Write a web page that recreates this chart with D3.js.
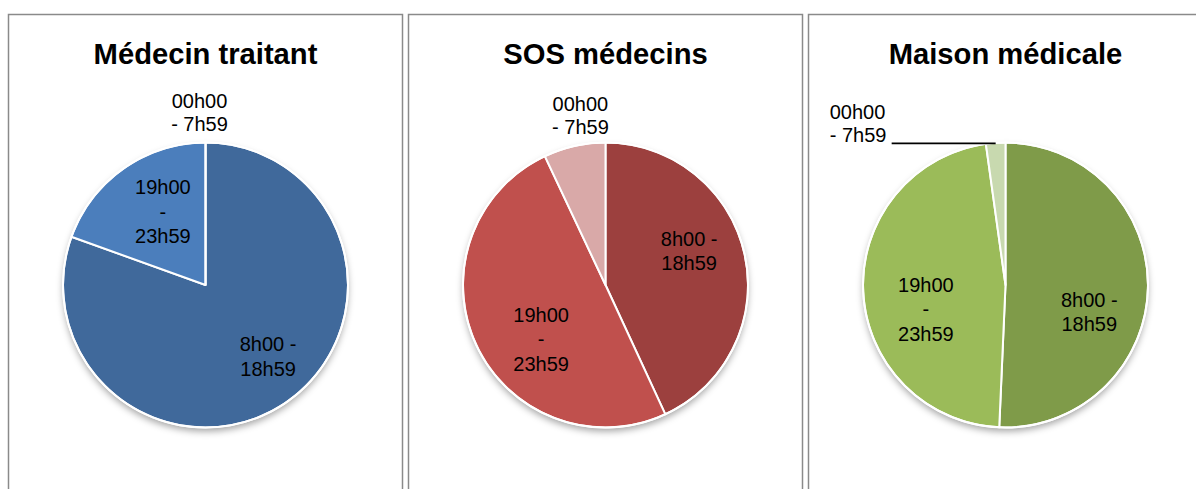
<!DOCTYPE html>
<html><head><meta charset="utf-8">
<script src="https://cdn.jsdelivr.net/npm/d3@7"></script>
<style>
html,body{margin:0;padding:0;background:#fff;}
svg{display:block;font-family:"Liberation Sans",Arial,sans-serif;}
</style></head>
<body>
<svg id="chart" width="1196" height="489"></svg>
<script>
// ---- data ----
const categories = ["8h00 - 18h59", "19h00 - 23h59", "00h00 - 7h59"];
const panelTitles = ["Médecin traitant", "SOS médecins", "Maison médicale"];
const medecinTraitant = [80.5, 19.5, 0];
const sosMedecins = [43.1, 49.9, 7.0];
const maisonMedicale = [50.7, 47.1, 2.2];
// wrapped label lines as they appear in each panel
const labelsMedecin = [["8h00 -", "18h59"], ["19h00", "-", "23h59"], ["00h00", "- 7h59"]];
const labelsSOS = [["8h00 -", "18h59"], ["19h00", "-", "23h59"], ["00h00", "- 7h59"]];
const labelsMaison = [["8h00 -", "18h59"], ["19h00", "-", "23h59"], ["00h00", "- 7h59"]];

// ---- styling / layout ----
const palettes = [
  ["#40699B", "#4B7EBC", "#A7BFDE"],
  ["#9C403E", "#C0504D", "#D9A9A8"],
  ["#7F9B49", "#9BBB59", "#C8D9AF"]
];
// small pixel nudges to mimic the spreadsheet's label placement
const nudges = [
  [[11, -2], [9, 0], null],
  [[-4, -15], [17, 16], null],
  [[-6, 25], [10, 20], null]
];
const outsideMode = ["above", "above", "leader"];

const panels = [
  {title: panelTitles[0], values: medecinTraitant, labels: labelsMedecin},
  {title: panelTitles[1], values: sosMedecins, labels: labelsSOS},
  {title: panelTitles[2], values: maisonMedicale, labels: labelsMaison}
];

const svg = d3.select("#chart");
const defs = svg.append("defs");
const f = defs.append("filter").attr("id", "shadow").attr("x", "-20%").attr("y", "-20%").attr("width", "140%").attr("height", "140%");
f.append("feDropShadow").attr("dx", 0).attr("dy", 4).attr("stdDeviation", 3.5)
  .attr("flood-color", "#000").attr("flood-opacity", 0.35);

const panelX = d3.scaleLinear().domain([0, 1]).range([8.5, 408.5]);
const panelW = 394;
const R = 142.5;
const cy = 285;
const fs = 20, lineH = 24.5, capH = 0.716 * fs;

const pie = d3.pie().sort(null).value(d => d);
const arc = d3.arc().innerRadius(0).outerRadius(R);
const labelArc = d3.arc().innerRadius(R * 0.63).outerRadius(R * 0.63);

panels.forEach((p, i) => {
  const x0 = panelX(i);
  const g = svg.append("g");
  g.append("rect").attr("x", x0).attr("y", 14.5)
    .attr("width", i === 2 ? 420 : panelW).attr("height", 500)
    .attr("fill", "none").attr("stroke", "#8a8a8a").attr("stroke-width", 1.5);

  const cx = x0 + 197;
  g.append("text").attr("x", cx).attr("y", 63.5).attr("text-anchor", "middle")
    .attr("font-weight", "bold").attr("font-size", 29.2).attr("fill", "#000").text(p.title);

  const pg = g.append("g").attr("transform", `translate(${cx},${cy})`);
  pg.append("circle").attr("r", R).attr("fill", "#fff").attr("filter", "url(#shadow)");
  const arcs = pie(p.values);
  pg.selectAll("path.slice").data(arcs).join("path").attr("class", "slice")
    .attr("d", arc).attr("fill", (d, j) => palettes[i][j])
    .attr("stroke", "#fff").attr("stroke-width", 2).attr("stroke-linejoin", "round");
  pg.append("circle").attr("r", R).attr("fill", "none").attr("stroke", "#fff").attr("stroke-width", 2);

  arcs.forEach((a, j) => {
    const lines = p.labels[j];
    if (nudges[i][j]) {
      const [lx, ly] = labelArc.centroid(a);
      const ccx = lx + nudges[i][j][0], ccy = ly + nudges[i][j][1];
      const firstBase = ccy - (lines.length - 1) * lineH / 2 + capH / 2;
      const t = pg.append("text").attr("text-anchor", "middle").attr("font-size", fs).attr("fill", "#000");
      lines.forEach((s, k) => t.append("tspan").attr("x", ccx).attr("y", firstBase + k * lineH).text(s));
    } else {
      const mid = (a.startAngle + a.endAngle) / 2;
      const ox = R * Math.sin(mid), oy = -R * Math.cos(mid);
      if (outsideMode[i] === "above") {
        const lastBase = oy - 12;
        const t = pg.append("text").attr("text-anchor", "middle").attr("font-size", fs).attr("fill", "#000");
        lines.forEach((s, k) => t.append("tspan").attr("x", ox - 6 * Math.sign(ox))
          .attr("y", lastBase - (lines.length - 1 - k) * (lineH - 2)).text(s));
      } else {
        const endX = ox - 104;
        pg.append("line").attr("x1", ox).attr("y1", oy + 0.5).attr("x2", endX).attr("y2", oy + 0.5)
          .attr("stroke", "#000").attr("stroke-width", 1.8);
        const t = pg.append("text").attr("text-anchor", "start").attr("font-size", fs).attr("fill", "#000");
        lines.forEach((s, k) => t.append("tspan").attr("x", endX - 62)
          .attr("y", oy - 1 - (lines.length - 1 - k) * (lineH - 2)).text(s));
      }
    }
  });
});
</script>
</body></html>
